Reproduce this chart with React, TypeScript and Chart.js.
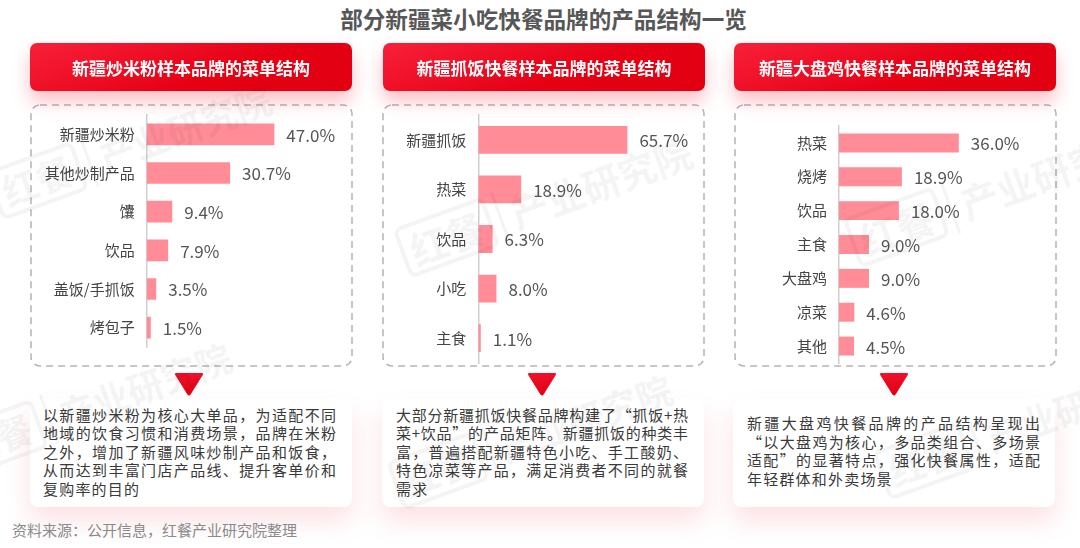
import React, { useEffect, useRef } from "react";
import { Chart, registerables } from "chart.js";

Chart.register(...registerables);

const FONT = '"Noto Sans CJK SC", "Noto Sans", sans-serif';
const BAR_COLOR = "#ff8c97";

// ---- data ----
const title = "部分新疆菜小吃快餐品牌的产品结构一览";
const headers = [
  "新疆炒米粉样本品牌的菜单结构",
  "新疆抓饭快餐样本品牌的菜单结构",
  "新疆大盘鸡快餐样本品牌的菜单结构",
];

const friedNoodleCats = ["新疆炒米粉", "其他炒制产品", "馕", "饮品", "盖饭/手抓饭", "烤包子"];
const friedNoodleVals = [47.0, 30.7, 9.4, 7.9, 3.5, 1.5];

const pilafCats = ["新疆抓饭", "热菜", "饮品", "小吃", "主食"];
const pilafVals = [65.7, 18.9, 6.3, 8.0, 1.1];

const chickenCats = ["热菜", "烧烤", "饮品", "主食", "大盘鸡", "凉菜", "其他"];
const chickenVals = [36.0, 18.9, 18.0, 9.0, 9.0, 4.6, 4.5];

const desc1 = [
  "以新疆炒米粉为核心大单品，为适配不同",
  "地域的饮食习惯和消费场景，品牌在米粉",
  "之外，增加了新疆风味炒制产品和饭食，",
  "从而达到丰富门店产品线、提升客单价和",
  "复购率的目的",
];
const desc2 = [
  "大部分新疆抓饭快餐品牌构建了“抓饭+热",
  "菜+饮品”的产品矩阵。新疆抓饭的种类丰",
  "富，普遍搭配新疆特色小吃、手工酸奶、",
  "特色凉菜等产品，满足消费者不同的就餐",
  "需求",
];
const desc3 = [
  "新疆大盘鸡快餐品牌的产品结构呈现出",
  "“以大盘鸡为核心，多品类组合、多场景",
  "适配”的显著特点，强化快餐属性，适配",
  "年轻群体和外卖场景",
];
const source = "资料来源：公开信息，红餐产业研究院整理";

// ---- components ----
type BarProps = {
  labels: string[];
  values: number[];
  max: number;
  left: number;
  top: number;
  width: number;
  height: number;
  axisWidth: number;
  padTop: number;
  padBottom: number;
  padRight: number;
};

function BarPanel(p: BarProps) {
  const ref = useRef<HTMLCanvasElement | null>(null);
  useEffect(() => {
    if (!ref.current) return;
    const valueLabels = {
      id: "valueLabels",
      afterDatasetsDraw(chart: any) {
        const ctx = chart.ctx;
        const meta = chart.getDatasetMeta(0);
        ctx.save();
        ctx.font = `17px ${FONT}`;
        ctx.fillStyle = "#555555";
        ctx.textAlign = "left";
        ctx.textBaseline = "middle";
        meta.data.forEach((bar: any, i: number) => {
          ctx.fillText(p.values[i].toFixed(1) + "%", bar.x + 12, bar.y + 1);
        });
        ctx.restore();
      },
    };
    const chart = new Chart(ref.current, {
      type: "bar",
      data: {
        labels: p.labels,
        datasets: [
          {
            data: p.values,
            backgroundColor: BAR_COLOR,
            categoryPercentage: 1,
            barPercentage: 0.56,
          },
        ],
      },
      options: {
        indexAxis: "y",
        animation: false,
        responsive: false,
        devicePixelRatio: 1,
        layout: { padding: { top: p.padTop, bottom: p.padBottom, right: p.padRight, left: 0 } },
        plugins: { legend: { display: false }, tooltip: { enabled: false } },
        scales: {
          x: { display: false, min: 0, max: p.max },
          y: {
            position: "left",
            grid: { display: false, drawTicks: false },
            border: { display: true, color: "#cfcfcf", width: 1.5 },
            ticks: {
              color: "#444444",
              font: { size: 15, family: FONT },
              padding: 12,
              autoSkip: false,
            },
            afterFit: (s: any) => {
              s.width = p.axisWidth;
              s.paddingTop = 0;
              s.paddingBottom = 0;
            },
          },
        },
      },
      plugins: [valueLabels],
    } as any);
    return () => chart.destroy();
  }, []);
  return (
    <canvas
      ref={ref}
      width={p.width}
      height={p.height}
      style={{ position: "absolute", left: p.left, top: p.top, width: p.width, height: p.height }}
    />
  );
}

function Header({ left, text }: { left: number; text: string }) {
  return (
    <div
      style={{
        position: "absolute",
        left,
        top: 43,
        width: 322,
        height: 48,
        borderRadius: 7,
        background: "linear-gradient(160deg, #f8203a 0%, #e60014 60%, #e00010 100%)",
        boxShadow: "0 10px 18px rgba(240, 60, 80, 0.33)",
        color: "#fff",
        fontFamily: FONT,
        fontWeight: 700,
        fontSize: 17,
        display: "flex",
        alignItems: "center",
        justifyContent: "center",
        zIndex: 2,
      }}
    >
      {text}
    </div>
  );
}

function DashedBox({ left }: { left: number }) {
  return (
    <svg
      width={324}
      height={264}
      style={{ position: "absolute", left: left - 1, top: 104, overflow: "visible", zIndex: 1 }}
    >
      <rect
        x={1}
        y={1}
        width={321}
        height={261}
        rx={9}
        ry={9}
        fill="none"
        stroke="#b4b4b4"
        strokeWidth={1.5}
        strokeDasharray="7 5"
      />
    </svg>
  );
}

function Triangle({ cx }: { cx: number }) {
  return (
    <svg width={30} height={24} style={{ position: "absolute", left: cx - 15, top: 373, zIndex: 3 }}>
      <defs>
        <linearGradient id={"tg" + cx} x1="0" y1="0" x2="0" y2="1">
          <stop offset="0" stopColor="#f0102a" />
          <stop offset="1" stopColor="#e00012" />
        </linearGradient>
      </defs>
      <path
        d="M2.5,0 H27.5 Q30,0 28.6,2.2 L16.6,21.4 Q15,23.6 13.4,21.4 L1.4,2.2 Q0,0 2.5,0 Z"
        fill={"url(#tg" + cx + ")"}
      />
    </svg>
  );
}

function TextBox({ left, width }: { left: number; width: number }) {
  return (
    <div
      style={{
        position: "absolute",
        left,
        top: 399,
        width,
        height: 108,
        background: "#ffffff",
        borderRadius: 8,
        boxShadow: "0 14px 26px rgba(235, 70, 90, 0.16)",
        zIndex: 1,
      }}
    />
  );
}

function Desc({ left, top, width, lines }: { left: number; top: number; width: number; lines: string[] }) {
  return (
    <div
      style={{
        position: "absolute",
        left,
        top,
        width,
        fontFamily: FONT,
        fontSize: 15,
        color: "#3a3a3a",
        zIndex: 4,
      }}
    >
      {lines.map((l, i) => (
        <div
          key={i}
          style={{
            height: 18.6,
            lineHeight: "18.6px",
            whiteSpace: "nowrap",
            textAlign: i === lines.length - 1 ? "left" : "justify",
            textAlignLast: i === lines.length - 1 ? "left" : "justify",
            letterSpacing: i === lines.length - 1 ? 1.2 : 0,
          } as any}
        >
          {l}
        </div>
      ))}
    </div>
  );
}

function Watermark({ left, top, size }: { left: number; top: number; size: number }) {
  const c = "rgba(0,0,0,0.045)";
  return (
    <div
      style={{
        position: "absolute",
        left,
        top,
        transform: "rotate(-20deg)",
        transformOrigin: "left top",
        display: "flex",
        alignItems: "center",
        color: c,
        fontSize: size,
        fontWeight: 700,
        fontFamily: FONT,
        whiteSpace: "nowrap",
        pointerEvents: "none",
        zIndex: 5,
      }}
    >
      <span style={{ border: `4px solid ${c}`, borderRadius: 8, padding: "2px 6px", lineHeight: 1.1 }}>红餐</span>
      <span style={{ marginLeft: 8, borderLeft: `3px solid ${c}`, paddingLeft: 10 }}>产业研究院</span>
    </div>
  );
}

export default function App() {
  return (
    <div
      style={{
        position: "absolute",
        left: 0,
        top: 0,
        width: 1080,
        height: 548,
        background: "#ffffff",
        overflow: "hidden",
        fontFamily: FONT,
      }}
    >
      <div
        style={{
          position: "absolute",
          left: 0,
          top: 4,
          width: 1087,
          textAlign: "center",
          fontSize: 22.6,
          fontWeight: 700,
          color: "#575757",
          lineHeight: "30px",
        }}
      >
        {title}
      </div>

      <Header left={30} text={headers[0]} />
      <Header left={383} text={headers[1]} />
      <Header left={734} text={headers[2]} />

      <DashedBox left={31} />
      <DashedBox left={383} />
      <DashedBox left={735} />

      <BarPanel
        labels={friedNoodleCats}
        values={friedNoodleVals}
        max={73}
        left={31}
        top={106}
        width={320}
        height={258}
        axisWidth={115.7}
        padTop={9}
        padBottom={17}
        padRight={6}
      />
      <BarPanel
        labels={pilafCats}
        values={pilafVals}
        max={97.7}
        left={384}
        top={106}
        width={320}
        height={258}
        axisWidth={94.3}
        padTop={9}
        padBottom={1}
        padRight={4}
      />
      <BarPanel
        labels={chickenCats}
        values={chickenVals}
        max={63.4}
        left={736}
        top={106}
        width={320}
        height={258}
        axisWidth={103}
        padTop={20}
        padBottom={1}
        padRight={6}
      />

      <TextBox left={30} width={322} />
      <TextBox left={382} width={322} />
      <TextBox left={733} width={322} />

      <Triangle cx={189} />
      <Triangle cx={542} />
      <Triangle cx={894} />

      <Desc left={43} top={405.7} width={293} lines={desc1} />
      <Desc left={396} top={405.7} width={292} lines={desc2} />
      <Desc left={747} top={414} width={293} lines={desc3} />

      <div
        style={{
          position: "absolute",
          left: 12,
          top: 520,
          fontSize: 15,
          color: "#8a8a8a",
          lineHeight: "20px",
          zIndex: 4,
        }}
      >
        {source}
      </div>

      <Watermark left={-15} top={172} size={36} />
      <Watermark left={-55} top={430} size={36} />
      <Watermark left={392} top={228} size={38} />
      <Watermark left={386} top={462} size={36} />
      <Watermark left={842} top={218} size={38} />
      <Watermark left={872} top={452} size={36} />
    </div>
  );
}
